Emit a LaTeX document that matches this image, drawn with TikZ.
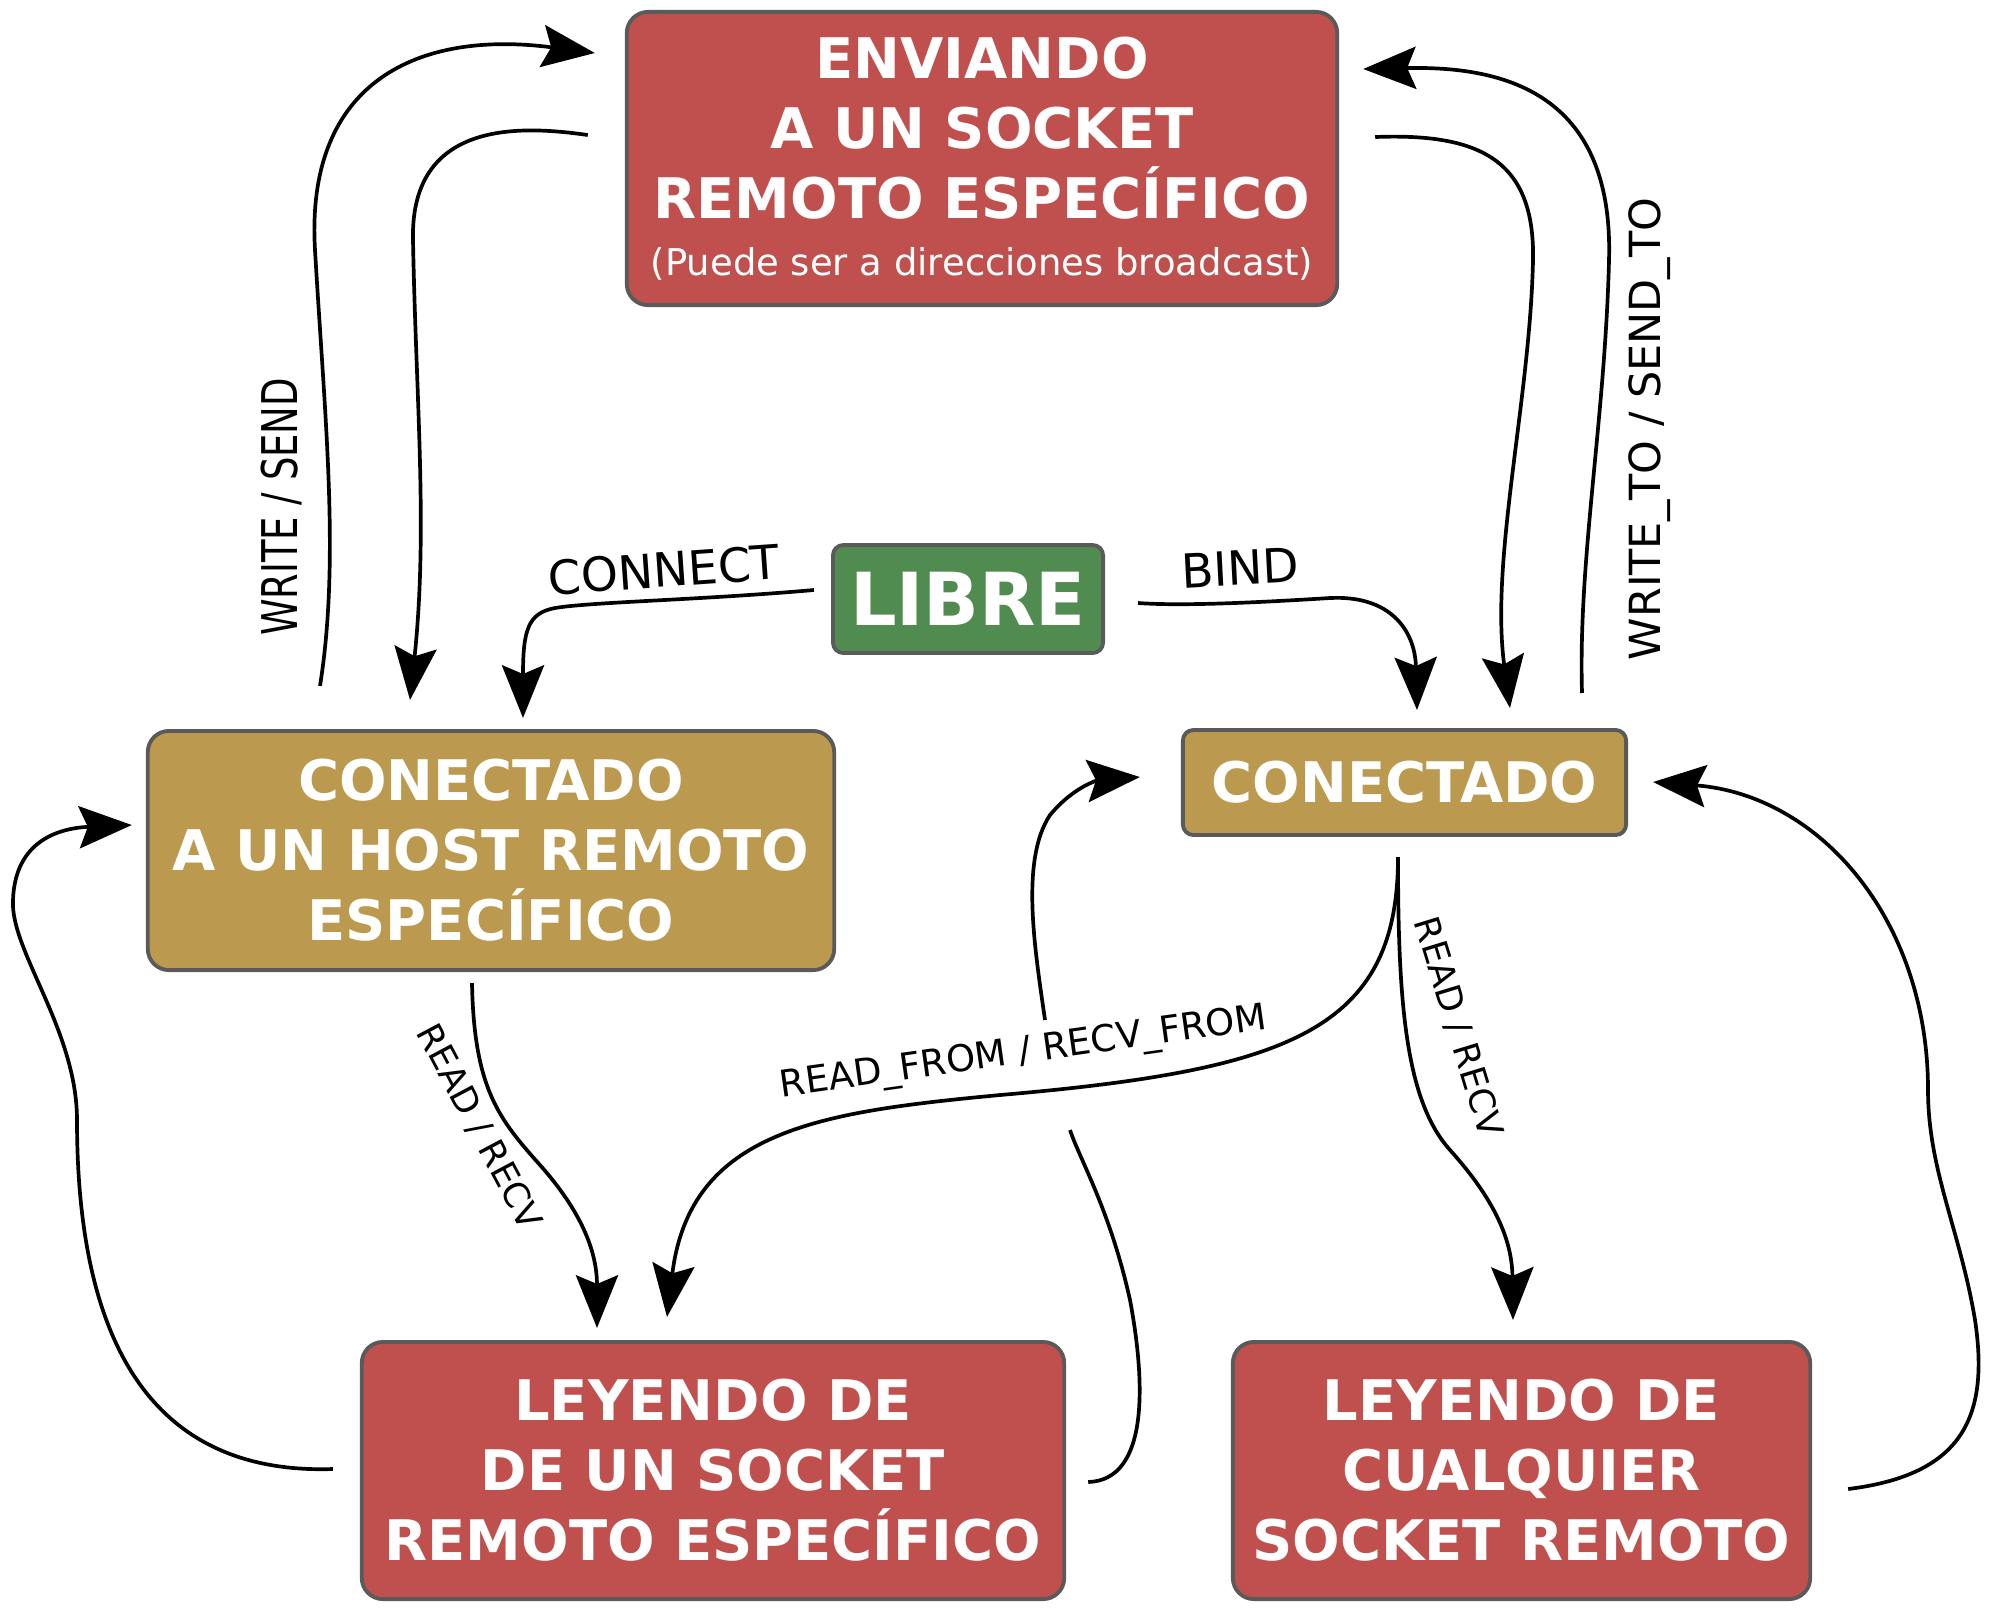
\documentclass[tikz,border=0pt]{standalone}
\usepackage{fontspec}
\setmainfont{DejaVu Sans}
\usetikzlibrary{arrows.meta, calc}
\definecolor{rojo}{RGB}{192,80,77}
\definecolor{dorado}{RGB}{187,154,80}
\definecolor{verde}{RGB}{80,140,80}
\definecolor{borde}{RGB}{90,90,90}

\begin{document}
\begin{tikzpicture}[x=0.01cm, y=-0.01cm,
  caja/.style={draw=borde, line width=1.1pt, rounded corners=6pt, text=white, align=center,
    inner sep=0pt, outer sep=0pt, font=\fontsize{15.9}{19.9}\selectfont\bfseries},
  linea/.style={line width=1.05pt},
  flecha/.style={linea, -{Stealth[length=15pt,width=12pt,inset=2.5pt]}},
  etiq/.style={inner sep=0pt}]
\useasboundingbox (0,0) rectangle (1991,1611);

% estados
\node[caja, fill=rojo, minimum width=7.10cm, minimum height=2.93cm] (envia) at (982,158.5)
  {ENVIANDO\\A UN SOCKET\\REMOTO ESPECÍFICO\\[-3.7pt]{\mdseries\fontsize{10.5}{12}\selectfont (Puede ser a direcciones broadcast)}};
\node[caja, fill=verde, rounded corners=3pt, minimum width=2.70cm, minimum height=1.08cm,
  font=\fontsize{20.8}{24}\selectfont\bfseries] (libre) at (968,599) {LIBRE};
\node[caja, fill=dorado, minimum width=6.86cm, minimum height=2.39cm] (conhost) at (491,850.5)
  {CONECTADO\\A UN HOST REMOTO\\ESPECÍFICO};
\node[caja, fill=dorado, rounded corners=3pt, minimum width=4.43cm, minimum height=1.05cm] (con) at (1404.5,782.5)
  {CONECTADO};
\node[caja, fill=rojo, minimum width=7.02cm, minimum height=2.57cm] (leeesp) at (713,1470.5)
  {LEYENDO DE\\DE UN SOCKET\\REMOTO ESPECÍFICO};
\node[caja, fill=rojo, minimum width=5.77cm, minimum height=2.57cm] (leecual) at (1521.5,1470.5)
  {LEYENDO DE\\CUALQUIER\\SOCKET REMOTO};

% etiquetas
\node[etiq, rotate=4, anchor=base, font=\fontsize{13.4}{16}\selectfont] (lconnect) at (665,587) {CONNECT};
\node[etiq, rotate=3, anchor=base, font=\fontsize{13.4}{16}\selectfont] (lbind) at (1241,585) {BIND};
\node[etiq, rotate=90, anchor=base] (lwrite) at (297,507)
  {\scalebox{0.75}[1]{\fontsize{14}{16}\selectfont WRITE / SEND}};
\node[etiq, rotate=90, anchor=base, font=\fontsize{12.2}{14}\selectfont] (lwriteto) at (1660,429) {WRITE\_TO / SEND\_TO};
\node[etiq, rotate=-62, font=\fontsize{10}{12}\selectfont] (lreadhost) at (479,1127) {READ / RECV};
\node[etiq, rotate=-73, font=\fontsize{10}{12}\selectfont] (lread) at (1458,1027) {READ / RECV};
\node[etiq, rotate=8, anchor=base, font=\fontsize{10.5}{12}\selectfont] (lreadfrom) at (1025,1063) {READ\_FROM / RECV\_FROM};

% transiciones
\draw[flecha] ($(libre.west)+(-19,-9)$) .. controls (700,600) and (590,602) .. (555,608)
  .. controls (528,613) and (523,630) .. ($(conhost.north)+(32,-13)$);
\draw[flecha] ($(libre.east)+(35,4)$) .. controls (1180,606) and (1250,603) .. (1330,598)
  .. controls (1390,595) and (1415,630) .. ($(con.north)+(12.5,-20)$);
\draw[flecha] ($(conhost.north)+(-171,-45)$) .. controls (340,560) and (325,420) .. (315,250)
  .. controls (305,80) and (420,30) .. ($(envia.west)+(-32,-105.5)$);
\draw[flecha] ($(envia.west)+(-39,-23.5)$) .. controls (530,127) and (410,115) .. (413,240)
  .. controls (416,400) and (428,530) .. ($(conhost.north)+(-81,-31)$);
\draw[flecha] ($(con.north)+(177.5,-37)$) .. controls (1578,560) and (1605,420) .. (1609,260)
  .. controls (1614,90) and (1500,66) .. ($(envia.east)+(26,-89.5)$);
\draw[flecha] ($(envia.east)+(38,-21.5)$) .. controls (1480,133) and (1535,160) .. (1533,260)
  .. controls (1530,400) and (1490,560) .. ($(con.north)+(105.5,-22)$);
\draw[flecha] ($(conhost.south)+(-19,13)$) .. controls (474,1090) and (500,1120) .. (540,1165)
  .. controls (580,1210) and (597,1250) .. ($(leeesp.north)+(-116,-14)$);
\draw[flecha] ($(con.south)+(-6.5,22)$) .. controls (1398,1030) and (1290,1070) .. (1000,1095)
  .. controls (820,1112) and (690,1130) .. ($(leeesp.north)+(-46,-25)$);
\draw[flecha] ($(con.south)+(-6.5,22)$) .. controls (1398,1000) and (1405,1100) .. (1450,1150)
  .. controls (1495,1200) and (1512,1240) .. ($(leecual.north)+(-8.5,-22)$);
\draw[flecha] ($(leeesp.west)+(-29,-1.5)$) .. controls (150,1475) and (77,1340) .. (77,1120)
  .. controls (77,1030) and (10,950) .. (13,900)
  .. controls (15,840) and (60,828) .. ($(conhost.west)+(-16,-25.5)$);
\coordinate (cruce1) at (1070,1130);
\coordinate (cruce2) at (1045,1020);
\draw[linea] ($(leeesp.east)+(24,11.5)$) .. controls (1150,1480) and (1145,1380) .. (1130,1300)
  .. controls (1110,1210) and (1080,1160) .. (cruce1);
\draw[flecha] (cruce2) .. controls (1035,950) and (1020,860) .. (1050,815)
  .. controls (1075,785) and (1100,780) .. ($(con.west)+(-43,-5.5)$);
\draw[flecha] ($(leecual.east)+(38,18.5)$) .. controls (1960,1475) and (1990,1420) .. (1975,1320)
  .. controls (1960,1230) and (1928,1170) .. (1928,1090)
  .. controls (1928,920) and (1820,795) .. ($(con.east)+(27,-0.5)$);
\end{tikzpicture}
\end{document}
